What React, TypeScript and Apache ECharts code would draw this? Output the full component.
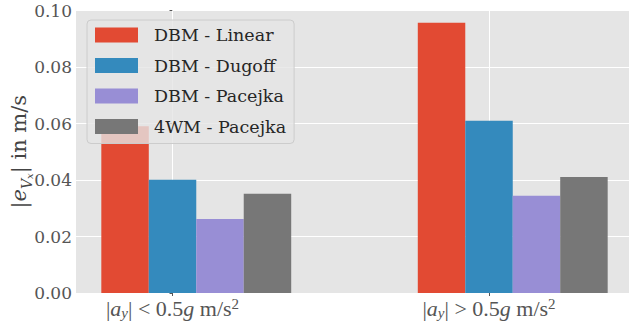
import React, { useEffect, useRef } from "react";
import * as echarts from "echarts";

const categories = [0, 1];
const categoryLabels = [
  "{n||}{i|a}{sub|y}{n|| < 0.5}{i|g}{n| m/s}{sup|2}",
  "{n||}{i|a}{sub|y}{n|| > 0.5}{i|g}{n| m/s}{sup|2}",
];
const seriesNames = ["DBM - Linear", "DBM - Dugoff", "DBM - Pacejka", "4WM - Pacejka"];
const linearVals = [0.059, 0.0957];
const dugoffVals = [0.0401, 0.061];
const pacejkaVals = [0.0262, 0.0344];
const wm4Vals = [0.0351, 0.0411];
const yTicks = [0, 0.02, 0.04, 0.06, 0.08, 0.1];

const colors = ["#E24A33", "#348ABD", "#988ED5", "#777777"];
const offsets = [-0.15, 0, 0.15, 0.3];
const BAR_W = 0.15;
const FONT = "'Liberation Serif'";
const FONT2 = "DejaVu Serif";

export default function App() {
  const ref = useRef<HTMLDivElement>(null);
  useEffect(() => {
    if (!ref.current) return;
    const chart = echarts.init(ref.current, undefined, { renderer: "svg" });
    const all = [linearVals, dugoffVals, pacejkaVals, wm4Vals];
    const richBase = {
      n: { fontFamily: FONT, fontSize: 22, color: "#555555", lineHeight: 24, verticalAlign: "middle" },
      i: { fontFamily: FONT, fontSize: 22, fontStyle: "italic", color: "#555555", lineHeight: 24, verticalAlign: "middle" },
      sub: { fontFamily: FONT, fontSize: 15, fontStyle: "italic", color: "#555555", lineHeight: 11, verticalAlign: "bottom" },
      sup: { fontFamily: FONT, fontSize: 15, color: "#555555", lineHeight: 12, verticalAlign: "top" },
    };
    const series: any[] = all.map((vals, k) => ({
      type: "custom",
      name: seriesNames[k],
      data: categories.map((c, j) => [c + offsets[k], vals[j]]),
      itemStyle: { color: colors[k] },
      encode: { x: 0, y: 1 },
      z: 3,
      renderItem: (params: any, api: any) => {
        const x = api.value(0);
        const y = api.value(1);
        const p0 = api.coord([x - BAR_W / 2, y]);
        const p1 = api.coord([x + BAR_W / 2, 0]);
        return {
          type: "rect",
          shape: { x: p0[0], y: p0[1], width: p1[0] - p0[0], height: p1[1] - p0[1] },
          style: { fill: colors[k] },
        };
      },
    }));
    series.push({
      type: "line",
      name: "_grid",
      data: [],
      z: 1,
      silent: true,
      markLine: {
        z: 1,
        silent: true,
        symbol: ["none", "none"],
        label: { show: false },
        lineStyle: { color: "#ffffff", width: 1, type: "solid" },
        data: categories.map((c) => ({ xAxis: c })),
      },
    });
    chart.setOption({
      animation: false,
      grid: {
        left: 76,
        right: -4,
        top: 10.5,
        bottom: 29,
        outerBoundsMode: "none",
        containLabel: false,
        show: true,
        backgroundColor: "#E5E5E5",
        borderWidth: 0,
      },
      legend: {
        data: seriesNames,
        orient: "vertical",
        left: 87,
        top: 20,
        padding: [6, 8, 8, 8],
        itemWidth: 43,
        itemHeight: 15,
        itemGap: 12.5,
        icon: "rect",
        backgroundColor: "rgba(229,229,229,0.8)",
        borderColor: "#cccccc",
        borderWidth: 1,
        borderRadius: 4,
        textStyle: {
          fontFamily: FONT2,
          fontSize: 17.5,
          color: "#262626",
          lineHeight: 15,
          padding: [0, 0, 0, 11],
        },
      },
      xAxis: {
        type: "value",
        min: -0.305,
        max: 1.455,
        axisLine: { show: false },
        splitLine: { show: false },
        axisTick: { show: true, length: 3, lineStyle: { color: "#555555" }, customValues: categories },
        axisLabel: {
          customValues: categories,
          margin: 3,
          fontFamily: FONT,
          formatter: (v: number) => categoryLabels[Math.round(v)] ?? "",
          rich: richBase,
        },
      },
      yAxis: {
        type: "value",
        min: 0,
        max: 0.1,
        interval: 0.02,
        axisLine: { show: false },
        axisTick: { show: true, length: 3, lineStyle: { color: "#555555" } },
        splitLine: { show: true, lineStyle: { color: "#ffffff", width: 1 } },
        axisLabel: {
          fontFamily: FONT2,
          fontSize: 17,
          lineHeight: 18,
          color: "#555555",
          margin: 4,
          formatter: (v: number) => (yTicks.some((t) => Math.abs(t - v) < 1e-9) ? v.toFixed(2) : ""),
        },
        name: "{n||}{i|e}{sub|V}{subsub|x}{n|| in m/s}",
        nameLocation: "middle",
        nameRotate: 90,
        nameGap: 42,
        nameMoveOverlap: false,
        nameTextStyle: {
          fontFamily: FONT2,
          fontSize: 21,
          rich: {
            n: { fontFamily: FONT2, fontSize: 21, color: "#444444", lineHeight: 30, verticalAlign: "middle" },
            i: { fontFamily: FONT2, fontSize: 21, fontStyle: "italic", color: "#444444", lineHeight: 30, verticalAlign: "middle" },
            sub: { fontFamily: FONT2, fontSize: 14, fontStyle: "italic", color: "#444444", lineHeight: 16, verticalAlign: "bottom" },
            subsub: { fontFamily: FONT2, fontSize: 10, fontStyle: "italic", color: "#444444", lineHeight: 8, verticalAlign: "bottom" },
          },
        },
      },
      series,
    });
    return () => chart.dispose();
  }, []);
  return <div ref={ref} style={{ width: 629, height: 322, position: "absolute", left: 0, top: 0 }} />;
}
